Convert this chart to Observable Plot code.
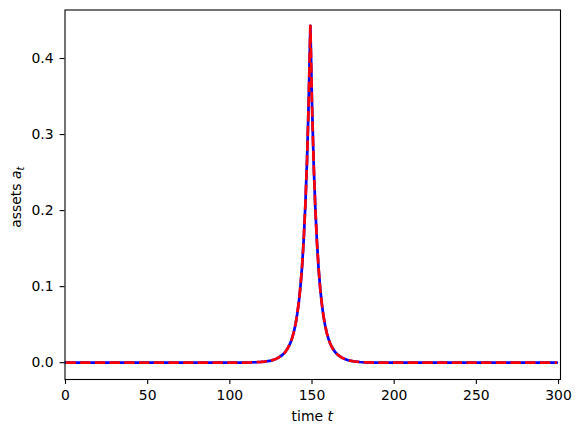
<!DOCTYPE html>
<html>
<head>
<meta charset="utf-8">
<script src="https://cdn.jsdelivr.net/npm/d3@7"></script>
<script src="https://cdn.jsdelivr.net/npm/@observablehq/plot@0.6"></script>
<style>
  html, body { margin: 0; padding: 0; background: white; }
  #chart svg { display: block; }
</style>
</head>
<body>
<div id="chart"></div>
<script>
// time index t
const t = [
  0, 109, 113, 116, 119, 121, 123,
  124, 125, 126, 127, 128, 129, 130, 131, 132, 133, 134, 135, 136,
  137, 138, 139, 140, 141, 142, 143, 144, 145, 146, 147, 148, 149,
  150, 151, 152, 153, 154, 155, 156, 157, 158, 159, 160, 161, 162,
  163, 164, 165, 166, 167, 168, 169, 170, 171, 172, 173, 174,
  175, 177, 179, 182, 185, 189, 299
];
// assets a_t
const assets = [
  0, 0.0001, 0.0003, 0.0006, 0.0010, 0.0014, 0.0020,
  0.0024, 0.0028, 0.0034, 0.0041, 0.0050, 0.0060, 0.0072, 0.0086, 0.0103, 0.0124, 0.0150, 0.0180, 0.0220,
  0.0268, 0.033, 0.041, 0.051, 0.064, 0.080, 0.101, 0.128, 0.164, 0.210, 0.268, 0.345, 0.443,
  0.340, 0.262, 0.204, 0.159, 0.124, 0.097, 0.077, 0.061, 0.049, 0.039, 0.0315, 0.0256, 0.0210,
  0.0172, 0.0143, 0.0119, 0.0099, 0.0082, 0.0069, 0.0057, 0.0048, 0.0040, 0.0033, 0.0027, 0.0023,
  0.0019, 0.0013, 0.0009, 0.0005, 0.0003, 0.0001, 0
];
const xTicks = [0, 50, 100, 150, 200, 250, 300];
const yTicks = [0.0, 0.1, 0.2, 0.3, 0.4];

const data = t.map((ti, i) => ({t: ti, a: assets[i]}));

const W = 581, H = 433;
const mL = 64.5, mT = 9.5, mR = 21, mB = 54;

const chart = Plot.plot({
  width: W,
  height: H,
  marginLeft: mL,
  marginTop: mT,
  marginRight: mR,
  marginBottom: mB,
  style: {fontFamily: "DejaVu Sans", fontSize: "13.9px", color: "black", background: "white"},
  x: {domain: [-0.3, 301.2], label: null},
  y: {domain: [-0.0221, 0.4638], label: null},
  marks: [
    Plot.axisX({ticks: xTicks, tickSize: 4.9, tickPadding: 5.5, tickFormat: d3.format("d"), strokeWidth: 1.1, label: null}),
    Plot.axisY({ticks: yTicks, tickSize: 4.9, tickPadding: 6.5, tickFormat: d3.format(".1f"), strokeWidth: 1.1, label: null}),
    Plot.line(data, {x: "t", y: "a", stroke: "#0000ff", strokeWidth: 2.7}),
    Plot.line(data, {x: "t", y: "a", stroke: "#ff0000", strokeWidth: 2.7, strokeDasharray: "10.3,4.4", strokeLinecap: "butt"}),
    Plot.frame({stroke: "black", strokeWidth: 1.1})
  ]
});

document.getElementById("chart").appendChild(chart);

const svg = d3.select(chart);
// x label: time t
const xl = svg.append("text")
  .attr("x", (mL + (W - mR)) / 2)
  .attr("y", 421)
  .attr("text-anchor", "middle")
  .attr("font-family", "DejaVu Sans")
  .attr("font-size", "13.9px")
  .attr("fill", "black");
xl.append("tspan").text("time ");
xl.append("tspan").attr("font-style", "italic").text("t");

// y label: assets a_t
const yl = svg.append("text")
  .attr("transform", `translate(20.5, ${(mT + (H - mB)) / 2 + 3}) rotate(-90)`)
  .attr("text-anchor", "middle")
  .attr("font-family", "DejaVu Sans")
  .attr("font-size", "13.9px")
  .attr("fill", "black");
yl.append("tspan").text("assets ");
yl.append("tspan").attr("font-style", "italic").text("a");
yl.append("tspan").attr("font-style", "italic").attr("font-size", "9.7px").attr("dy", "3").text("t");
</script>
</body>
</html>
